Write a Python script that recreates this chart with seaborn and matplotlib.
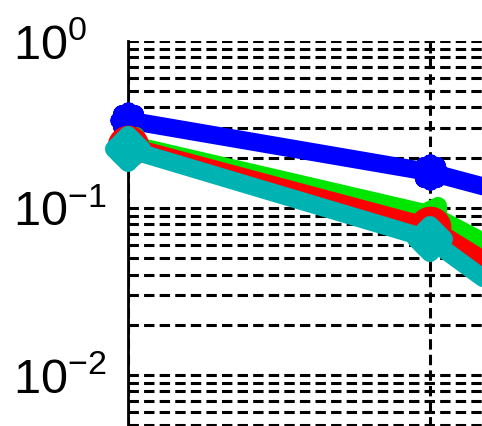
import matplotlib
matplotlib.use("Agg")
import matplotlib.pyplot as plt
from matplotlib.markers import MarkerStyle
from matplotlib.ticker import LogLocator, NullFormatter, FixedLocator
import seaborn as sns

# values (log y axis)
steps = [1, 2, 3]
err_blue = [0.335, 0.164, 0.054]
err_green = [0.242, 0.092, 0.0106]
err_red = [0.235, 0.077, 0.0059]
err_cyan = [0.225, 0.065, 0.0031]
ytick_vals = [1e-2, 1e-1, 1e0]
ytick_text = [r"$\mathregular{10^{-2}}$", r"$\mathregular{10^{-1}}$", r"$\mathregular{10^{0}}$"]

sns.set_style("white")
plt.rcParams["font.family"] = ["Liberation Sans", "DejaVu Sans"]
plt.rcParams["mathtext.fontset"] = "custom"
plt.rcParams["mathtext.rm"] = "Liberation Sans"

fig = plt.figure(figsize=(4.82, 4.26), dpi=100)
# axes run past the right and bottom edges of the figure (cropped view)
ax = fig.add_axes([128 / 482, (426 - 442) / 426, 604 / 482, 401 / 426])

lw = 13
series = [
    (err_blue, "#0000ff", MarkerStyle((8, 2, 0), capstyle="round", joinstyle="round"), 13),
    (err_green, "#00e600", MarkerStyle("<", fillstyle="none", joinstyle="round"), 12),
    (err_red, "#ff0000", MarkerStyle("o", fillstyle="none"), 17),
    (err_cyan, "#00b3b3", MarkerStyle("D", fillstyle="none", joinstyle="round"), 14),
]
for vals, col, mk, ms in series:
    sns.lineplot(x=steps, y=vals, ax=ax, color=col, lw=lw, marker=mk, ms=ms,
                 mec=col, mfc="none", mew=lw, solid_capstyle="round",
                 solid_joinstyle="round", clip_on=False, zorder=3)

ax.set_yscale("log")
ax.set_ylim(10 ** -2.4, 1)
ax.set_xlim(1, 3)

ax.yaxis.set_major_locator(FixedLocator(ytick_vals))
ax.set_yticklabels(ytick_text)
ax.yaxis.set_minor_locator(LogLocator(base=10, subs=range(2, 10)))
ax.yaxis.set_minor_formatter(NullFormatter())
ax.xaxis.set_major_locator(FixedLocator([1, 2, 3]))
ax.set_xticklabels([])

ax.grid(True, which="both", axis="y", color="k", lw=2.2, ls=(0, (3.4, 1.7)))
ax.grid(True, which="major", axis="x", color="k", lw=2.2, ls=(0, (3.4, 1.7)))
ax.set_axisbelow(True)

ax.tick_params(axis="y", which="major", direction="in", length=12, width=2,
               color="k", pad=83, labelsize=35, labelcolor="k")
ax.tick_params(axis="y", which="minor", direction="in", length=6, width=2, color="k")
ax.tick_params(axis="x", length=0)
for lab in ax.get_yticklabels():
    lab.set_ha("left")

for side in ["top", "right", "bottom"]:
    ax.spines[side].set_visible(False)
ax.spines["left"].set_color("k")
ax.spines["left"].set_linewidth(2)

fig.savefig("out.png", dpi=100)
